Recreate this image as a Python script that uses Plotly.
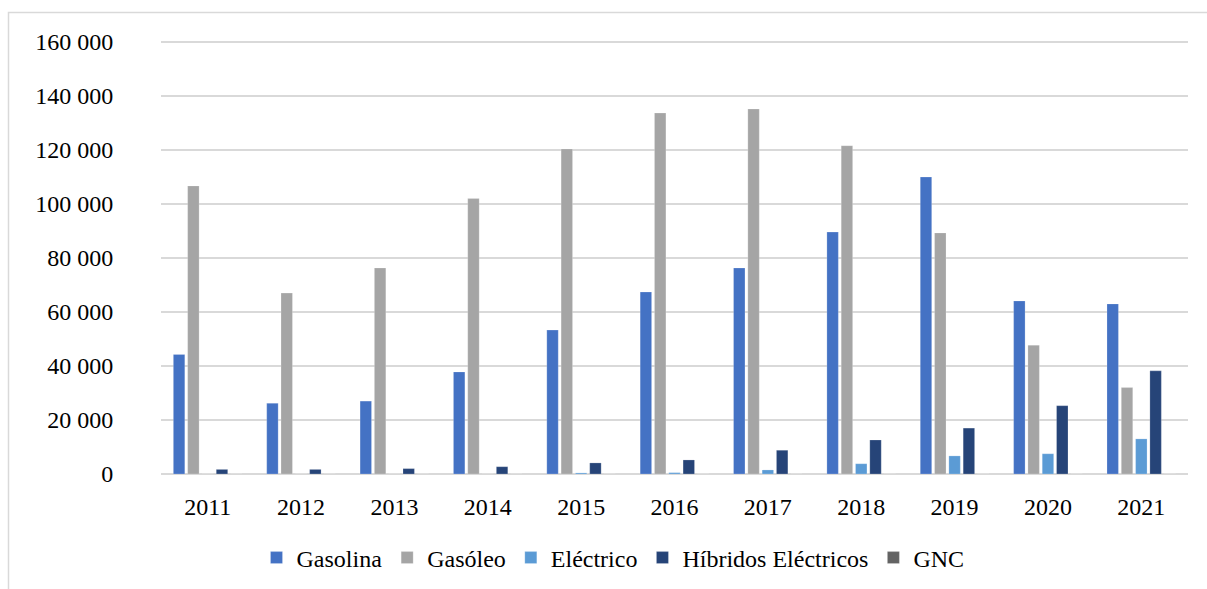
import plotly.graph_objects as go

# Matriculaciones por tipo de combustible, 2011-2021
years = ["2011", "2012", "2013", "2014", "2015", "2016",
         "2017", "2018", "2019", "2020", "2021"]
gasolina = [44300, 26200, 27000, 37800, 53300, 67400, 76300, 89600, 110000, 64100, 63000]
gasoleo = [106700, 67000, 76300, 102000, 120400, 133700, 135200, 121600, 89300, 47700, 32000]
electrico = [0, 0, 0, 0, 400, 500, 1500, 3800, 6700, 7500, 13000]
hibridos = [1700, 1700, 2000, 2700, 4100, 5200, 8800, 12600, 17000, 25300, 38200]
gnc = [0, 0, 0, 0, 0, 0, 0, 0, 0, 0, 0]

series = [
    ("Gasolina", gasolina, "#4472C4"),
    ("Gasóleo", gasoleo, "#A5A5A5"),
    ("Eléctrico", electrico, "#5B9BD5"),
    ("Híbridos Eléctricos", hibridos, "#264478"),
    ("GNC", gnc, "#636363"),
]

FONT = "Liberation Serif"
FS = 24

fig = go.Figure()
for name, vals, color in series:
    fig.add_trace(go.Bar(
        x=years, y=vals, name=name,
        marker=dict(color=color, line=dict(color="rgba(255,255,255,0.35)", width=0.6)),
    ))

W, H = 1207, 589
L, R, T, B = 161, 19, 37, 115
pw, ph = W - L - R, H - T - B
YMAX = 160000 * ph / 432.0  # keeps the 160 000 gridline inside the plot area

fig.update_layout(
    width=W, height=H,
    margin=dict(l=L, r=R, t=T, b=B, pad=0, autoexpand=False),
    paper_bgcolor="white", plot_bgcolor="white",
    barmode="group", bargap=0.234, bargroupgap=0.2,
    separators=". ",
    font=dict(family=FONT, size=FS, color="#000000"),
    showlegend=True,
    legend=dict(
        orientation="h", x=(613 - L) / pw, xanchor="center",
        y=-(558 - (T + ph)) / ph, yanchor="middle",
        font=dict(family=FONT, size=FS, color="#000000"),
        itemwidth=30, traceorder="normal",
        bgcolor="rgba(0,0,0,0)",
    ),
    xaxis=dict(
        showgrid=False, showline=False, zeroline=False, automargin=False,
        ticks="outside", ticklen=11, tickcolor="rgba(0,0,0,0)",
        tickfont=dict(family=FONT, size=FS),
    ),
    yaxis=dict(
        range=[0, YMAX], tick0=0, dtick=20000, tickformat=",d",
        showgrid=True, gridcolor="#D9D9D9", gridwidth=1.5,
        zeroline=True, zerolinecolor="#D9D9D9", zerolinewidth=1.5,
        showline=False, automargin=False,
        ticks="outside", ticklen=42, tickcolor="rgba(0,0,0,0)",
        tickfont=dict(family=FONT, size=FS),
    ),
)

# Outer chart frame
fig.add_shape(
    type="rect", xref="paper", yref="paper",
    x0=(8.5 - L) / pw, x1=(W + 10 - L) / pw,
    y0=-(H + 10 - (T + ph)) / ph, y1=((T + ph) - 12.5) / ph,
    line=dict(color="#D9D9D9", width=1.5), fillcolor="rgba(0,0,0,0)",
    layer="below",
)

fig.write_html("out.html")
